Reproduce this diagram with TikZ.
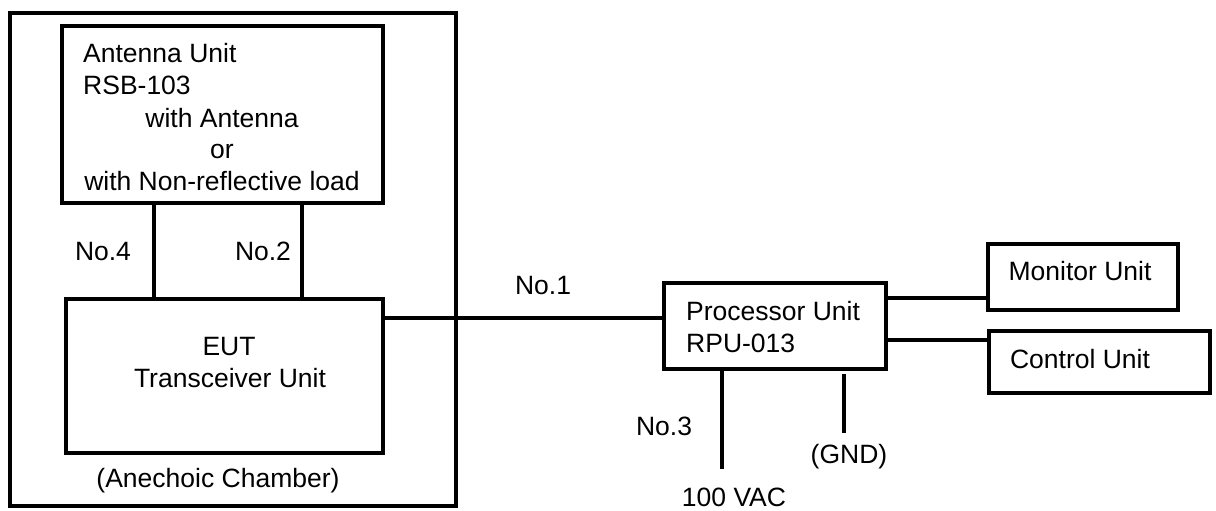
\documentclass[tikz,border=0pt]{standalone}
\usepackage{fontspec}
\setmainfont{Liberation Sans}
\begin{document}
\begin{tikzpicture}[x=1pt,y=-1pt,
  box/.style={draw,line width=3.3pt,rectangle,inner sep=0pt,outer sep=0pt},
  wire/.style={line width=3.3pt},
  txt/.style={inner sep=0pt,font=\fontsize{26.5}{32}\selectfont},
]
\useasboundingbox (0,0) rectangle (1216,511);
% boxes
\node[box,minimum width=446pt,minimum height=493pt] (chamber) at (233,259.5) {};
\node[box,minimum width=321pt,minimum height=177pt] (ant) at (222.5,114.5) {};
\node[box,minimum width=317pt,minimum height=154pt] (eut) at (224.5,376) {};
\node[box,minimum width=222pt,minimum height=86pt] (proc) at (775,326) {};
\node[box,minimum width=190pt,minimum height=66pt] (mon) at (1083,277) {};
\node[box,minimum width=221pt,minimum height=62pt] (ctrl) at (1099.5,362) {};
% helper coordinates
\coordinate (x4) at (154,0);
\coordinate (x2) at (302,0);
\coordinate (y1) at (0,318);
\coordinate (ym) at (0,298);
\coordinate (yc) at (0,340);
\coordinate (x3) at (722,0);
\coordinate (ac) at (722,469);
\coordinate (gtop) at (844,374);
\coordinate (gnd) at (844,433);
% connectors
\draw[wire] (ant.south -| x4) -- (eut.north -| x4);
\draw[wire] (ant.south -| x2) -- (eut.north -| x2);
\draw[wire] (eut.east |- y1) -- (proc.west |- y1);
\draw[wire] (proc.east |- ym) -- (mon.west |- ym);
\draw[wire] (proc.east |- yc) -- (ctrl.west |- yc);
\draw[wire] (proc.south -| x3) -- (ac);
\draw[wire] (gtop) -- (gnd);
% texts
\node[txt,anchor=base west] (t1) at (83,63) {Antenna Unit};
\node[txt,anchor=base west] (t2) at (83,95) {RSB-103};
\node[txt,anchor=base] (t3) at (222,127) {with Antenna};
\node[txt,anchor=base] (t4) at (222,158) {or};
\node[txt,anchor=base] (t5) at (222,190) {with Non-reflective load};
\node[txt,anchor=base] (n4) at (103,260) {No.4};
\node[txt,anchor=base] (n2) at (263,260) {No.2};
\node[txt,anchor=base] (e1) at (229,355) {EUT};
\node[txt,anchor=base] (e2) at (230,387) {Transceiver Unit};
\node[txt,anchor=base] (ch) at (218,487) {(Anechoic Chamber)};
\node[txt,anchor=base] (n1) at (543,294) {No.1};
\node[txt,anchor=base west] (p1) at (686,320) {Processor Unit};
\node[txt,anchor=base west] (p2) at (686,352) {RPU-013};
\node[txt,anchor=base] (n3) at (664,435) {No.3};
\node[txt,anchor=base] (g) at (849,463) {(GND)};
\node[txt,anchor=base] (v) at (734,506) {100 VAC};
\node[txt,anchor=base] (m) at (1080,280) {Monitor Unit};
\node[txt,anchor=base] (c) at (1080,368) {Control Unit};
\end{tikzpicture}
\end{document}
